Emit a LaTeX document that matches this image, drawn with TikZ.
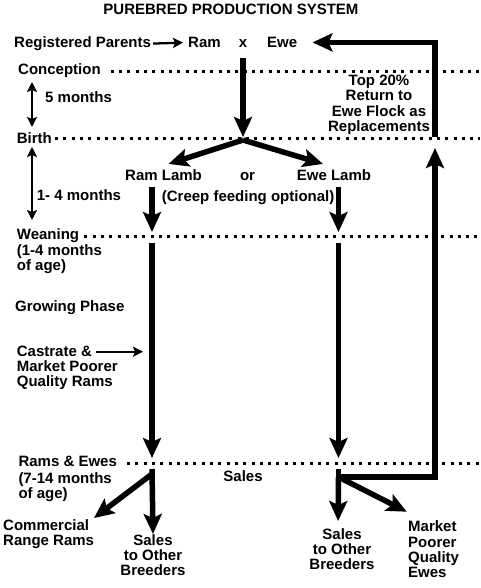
\documentclass[tikz,border=0pt]{standalone}
\usepackage{fontspec}
\setmainfont{Liberation Sans}
\usetikzlibrary{arrows.meta}

\begin{document}
\begin{tikzpicture}[x=1pt,y=-1pt,
    txt/.style={font=\fontsize{15}{15.3}\selectfont\bfseries, inner sep=0pt},
    dots/.style={line width=3pt, dash pattern=on 3pt off 5.3pt},
    bigline/.style={line width=5.5pt, line join=miter},
    bigarr/.style={bigline, -{Stealth[length=20pt,width=18pt,inset=4pt]}},
    thinarr/.style={line width=2.3pt, -{Stealth[length=10pt,width=10pt,inset=2pt]}},
    dblarr/.style={line width=2.3pt, {Stealth[length=10pt,width=10pt,inset=2pt]}-{Stealth[length=10pt,width=10pt,inset=2pt]}}]
    \useasboundingbox (0,0) rectangle (480,588);
    % text
    \node[txt, anchor=base] (title) at (231,15) {PUREBRED PRODUCTION SYSTEM};
    \node[txt, anchor=base west] (regpar) at (14,47.5) {Registered Parents};
    \node[txt, anchor=base west] (ram) at (188,47.5) {Ram};
    \node[txt, anchor=base] (crossx) at (243,48) {x};
    \node[txt, anchor=base west] (ewe) at (267,47.5) {Ewe};
    \node[txt, anchor=base west] (conc) at (18,75) {Conception};
    \node[txt, anchor=base west] (fivemo) at (45,103) {5 months};
    \node[txt, anchor=north, align=center] (top) at (379,75) {Top 20\%\\Return to\\Ewe Flock as\\Replacements};
    \node[txt, anchor=base west] (birth) at (16.7,144) {Birth};
    \node[txt, anchor=base west] (ramlamb) at (125,180) {Ram Lamb};
    \node[txt, anchor=base] (ornode) at (247.5,180) {or};
    \node[txt, anchor=base west] (ewelamb) at (296.7,180) {Ewe Lamb};
    \node[txt, anchor=base west] (onefour) at (36.7,200.7) {1- 4 months};
    \node[txt, anchor=base west] (creep) at (161.7,201) {(Creep feeding optional)};
    \node[txt, anchor=base west] (wean) at (16.7,239) {Weaning};
    \node[txt, anchor=north west, align=left] (weanage) at (16.7,244) {(1-4 months\\of age)};
    \node[txt, anchor=base west] (grow) at (15,311) {Growing Phase};
    \node[txt, anchor=north west, align=left] (castrate) at (16.7,345.7) {Castrate \&\\Market Poorer\\Quality Rams};
    \node[txt, anchor=base west] (ramsewes) at (18.3,466.7) {Rams \& Ewes};
    \node[txt, anchor=north west, align=left] (ramsage) at (18.3,472) {(7-14 months\\of age)};
    \node[txt, anchor=base] (sales) at (243,481.7) {Sales};
    \node[txt, anchor=north west, align=left] (comm) at (3,519) {Commercial\\Range Rams};
    \node[txt, anchor=north, align=center] (salesL) at (153,534) {Sales\\to Other\\Breeders};
    \node[txt, anchor=north, align=center] (salesR) at (342,528) {Sales\\to Other\\Breeders};
    \node[txt, anchor=north west, align=left] (market) at (408,520.7) {Market\\Poorer\\Quality\\Ewes};

    % dotted time lines
    \coordinate (edge) at (480,0);
    \draw[dots] ([xshift=10pt]conc.east) -- (conc.east -| edge);
    \draw[dots] ([xshift=3pt]birth.east) -- (birth.east -| edge);
    \draw[dots] ([xshift=5pt,yshift=-1.4pt]wean.east) -- ([yshift=-1.4pt]wean.east -| edge);
    \draw[dots] ([xshift=10pt,yshift=-1.8pt]ramsewes.east) -- ([yshift=-1.8pt]ramsewes.east -| edge);

    % side arrows
    \coordinate (d1) at (32,82);
    \coordinate (d2) at (32,127);
    \coordinate (d3) at (32,147);
    \coordinate (d4) at (32,220);
    \draw[dblarr] (d1) -- (d2);
    \draw[dblarr] (d3) -- (d4);
    \draw[thinarr, shorten <=2pt, shorten >=5pt] (regpar.east) -- (ram.west);
    \coordinate (castA) at (96,351.7);
    \coordinate (castB) at (143,351.7);
    \draw[thinarr] (castA) -- (castB);

    % mating to birth
    \coordinate (split) at (243,140);
    \draw[bigarr, shorten >=3pt] ([yshift=-10pt]crossx.south) -- (split);
    \draw[bigarr] (split) -- ([xshift=5pt,yshift=5pt]ramlamb.north);
    \draw[bigarr] (split) -- ([xshift=-11pt,yshift=5pt]ewelamb.north);

    % lamb columns
    \foreach \c/\x in {l/152,r/338.5}{
        \coordinate (\c1) at (\x,187);
        \coordinate (\c2) at (\x,232);
        \coordinate (\c3) at (\x,243);
        \coordinate (\c4) at (\x,458);
        \coordinate (\c5) at (\x,469);
    }
    \draw[bigarr] (l1) -- (l2);
    \draw[bigarr] (r1) -- (r2);
    \draw[bigarr] (l3) -- (l4);
    \draw[bigarr] (r3) -- (r4);

    % ram sales
    \coordinate (lfork) at (152,474);
    \coordinate (lcomm) at (94,518);
    \draw[bigarr] (l5) -- (salesL.north);
    \draw[bigarr] (lfork) -- (lcomm);

    % ewe sales and replacements
    \coordinate (rfork) at (338.5,477);
    \coordinate (rtop) at (435,148);
    \coordinate (rbirth) at (435,137);
    \coordinate (rmark) at (406.7,511.7);
    \draw[bigline] (r5) -- (rfork);
    \draw[bigarr] (rfork) -| (rtop);
    \draw[bigarr, shorten >=7pt] (rfork) -- ([xshift=-4pt]salesR.north);
    \draw[bigarr] (rfork) -- (rmark);
    \draw[bigarr, shorten >=15pt] (rbirth) |- (ewe.east);
\end{tikzpicture}
\end{document}
